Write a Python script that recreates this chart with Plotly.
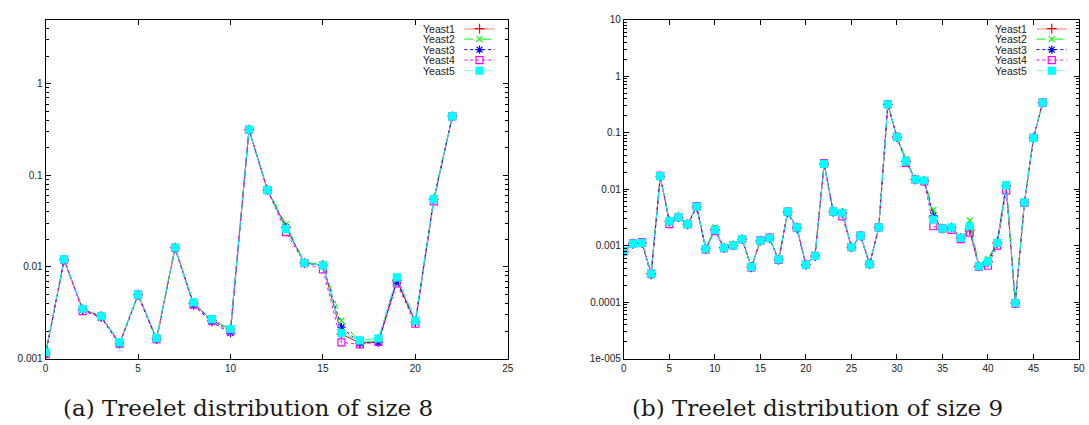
import plotly.graph_objects as go

# ---------------- data: treelet distribution of size 8 ----------------
x8 = list(range(23))
yeast1_s8 = [0.00115, 0.0120, 0.00345, 0.0029, 0.00148, 0.0050, 0.00165, 0.0162, 0.0040, 0.0026, 0.0021,
             0.315, 0.069, 0.027, 0.0111, 0.0105, 0.00185, 0.00148, 0.00152, 0.0072, 0.0025, 0.055, 0.44]
yeast2_s8 = [0.00115, 0.0121, 0.00345, 0.0029, 0.00148, 0.0050, 0.00165, 0.0163, 0.0040, 0.0026, 0.0021,
             0.316, 0.070, 0.029, 0.0112, 0.0107, 0.0026, 0.00150, 0.00155, 0.0078, 0.0026, 0.056, 0.44]
yeast3_s8 = [0.0011, 0.0119, 0.0034, 0.0028, 0.00143, 0.0049, 0.0016, 0.0160, 0.0038, 0.0025, 0.0019,
             0.312, 0.069, 0.027, 0.0110, 0.0104, 0.0022, 0.00148, 0.00150, 0.0070, 0.0025, 0.055, 0.44]
yeast4_s8 = [0.00112, 0.0120, 0.0033, 0.0029, 0.00146, 0.0050, 0.00163, 0.0162, 0.0039, 0.0026, 0.0020,
             0.314, 0.069, 0.024, 0.0110, 0.0094, 0.0015, 0.00143, 0.00152, 0.0066, 0.0024, 0.052, 0.44]
yeast5_s8 = [0.00117, 0.0121, 0.0035, 0.0029, 0.00150, 0.0050, 0.00167, 0.0163, 0.0041, 0.0027, 0.0021,
             0.316, 0.069, 0.026, 0.0111, 0.0104, 0.0019, 0.00158, 0.00166, 0.0077, 0.0026, 0.055, 0.44]

# ---------------- data: treelet distribution of size 9 ----------------
x9 = list(range(47))
yeast1_s9 = [0.00078, 0.00108, 0.00112, 0.00032, 0.0169, 0.0027, 0.0032, 0.0024, 0.0049, 0.00088,
             0.0019, 0.00092, 0.00101, 0.0013, 0.00042, 0.00123, 0.00135, 0.00057, 0.0039, 0.0021,
             0.00046, 0.00066, 0.028, 0.0040, 0.0038, 0.00094, 0.0015, 0.00047, 0.0021, 0.315,
             0.083, 0.031, 0.0148, 0.014, 0.0032, 0.0020, 0.0021, 0.00137, 0.0019, 0.00043,
             0.00052, 0.00112, 0.0115, 0.000097, 0.0058, 0.081, 0.34]
yeast2_s9 = [0.00079, 0.00109, 0.00112, 0.00032, 0.0170, 0.0027, 0.0032, 0.0024, 0.0049, 0.00089,
             0.0021, 0.00093, 0.00101, 0.0013, 0.00042, 0.00124, 0.00136, 0.00057, 0.0040, 0.0021,
             0.00047, 0.00067, 0.029, 0.0041, 0.0038, 0.00095, 0.0015, 0.00048, 0.0021, 0.318,
             0.085, 0.034, 0.0150, 0.0142, 0.0043, 0.0021, 0.0021, 0.00138, 0.0028, 0.00044,
             0.00058, 0.00115, 0.0124, 0.000098, 0.0059, 0.082, 0.34]
yeast3_s9 = [0.00077, 0.00106, 0.00110, 0.00030, 0.0167, 0.0026, 0.0031, 0.0023, 0.0048, 0.00086,
             0.0019, 0.00090, 0.00100, 0.0013, 0.00040, 0.00121, 0.00133, 0.00055, 0.0038, 0.0020,
             0.00045, 0.00064, 0.028, 0.0039, 0.0037, 0.00092, 0.0015, 0.00046, 0.0021, 0.312,
             0.082, 0.031, 0.0147, 0.0139, 0.0034, 0.0020, 0.0021, 0.00135, 0.0022, 0.00042,
             0.00051, 0.00110, 0.0113, 0.000095, 0.0057, 0.080, 0.34]
yeast4_s9 = [0.00080, 0.00110, 0.00115, 0.00032, 0.0172, 0.0024, 0.0032, 0.0024, 0.0050, 0.00086,
             0.0018, 0.00090, 0.00101, 0.0013, 0.00041, 0.00124, 0.00138, 0.00056, 0.0040, 0.0021,
             0.00046, 0.00066, 0.029, 0.0040, 0.0033, 0.00094, 0.0015, 0.00047, 0.0021, 0.320,
             0.084, 0.029, 0.0148, 0.0137, 0.0022, 0.0020, 0.0019, 0.00130, 0.0017, 0.00042,
             0.00044, 0.00100, 0.0095, 0.000094, 0.0057, 0.081, 0.34]
yeast5_s9 = [0.00079, 0.00108, 0.00112, 0.00032, 0.0170, 0.0027, 0.0032, 0.0024, 0.0049, 0.00088,
             0.0019, 0.00092, 0.00101, 0.0013, 0.00042, 0.00123, 0.00135, 0.00057, 0.0040, 0.0021,
             0.00046, 0.00066, 0.028, 0.0040, 0.0038, 0.00094, 0.0015, 0.00047, 0.0021, 0.317,
             0.083, 0.031, 0.0148, 0.0142, 0.0029, 0.0020, 0.0021, 0.00137, 0.0022, 0.00043,
             0.00052, 0.00112, 0.0117, 0.000097, 0.0058, 0.081, 0.34]

series_names = ["Yeast1", "Yeast2", "Yeast3", "Yeast4", "Yeast5"]
series_s8 = [yeast1_s8, yeast2_s8, yeast3_s8, yeast4_s8, yeast5_s8]
series_s9 = [yeast1_s9, yeast2_s9, yeast3_s9, yeast4_s9, yeast5_s9]

y_ticks_s8 = [0.001, 0.01, 0.1, 1]
y_ticklabels_s8 = ["0.001", "0.01", "0.1", "1"]
y_ticks_s9 = [1e-5, 1e-4, 0.001, 0.01, 0.1, 1, 10]
y_ticklabels_s9 = ["1e-005", "0.0001", "0.001", "0.01", "0.1", "1", "10"]

captions = ["(a) Treelet distribution of size 8", "(b) Treelet distribution of size 9"]

# ---------------- styles ----------------
colors = ["#ff0000", "#00ff00", "#0000ff", "#ff00ff", "#00ffff"]
dashes = ["solid", "dash", "dot", "dot", "dashdot"]
symbols = ["cross-thin", "x-thin", "asterisk", "square-open", "square"]
msizes = [7, 6, 7, 7, 7]
sans = "Liberation Sans, Arial, sans-serif"

fig = go.Figure()

# data traces
for xs, series, xa, ya in [(x8, series_s8, "x", "y"), (x9, series_s9, "x2", "y2")]:
    for name, ys, c, d, s, ms in zip(series_names, series, colors, dashes, symbols, msizes):
        fig.add_trace(go.Scatter(
            x=xs, y=ys, name=name, mode="lines+markers",
            xaxis=xa, yaxis=ya, showlegend=False,
            line=dict(color=c, width=1, dash=d),
            marker=dict(symbol=s, size=ms, color=c, line=dict(color=c, width=1.2)),
        ))

# gnuplot-style key (text left of the sample), drawn on small helper axes
for xa, ya in [("x3", "y3"), ("x4", "y4")]:
    for i, (name, c, d, s, ms) in enumerate(zip(series_names, colors, dashes, symbols, msizes)):
        fig.add_trace(go.Scatter(
            x=[0, 1], y=[i, i], mode="lines", xaxis=xa, yaxis=ya, showlegend=False,
            hoverinfo="skip", line=dict(color=c, width=1.4 if i == 0 else 1, dash=d),
        ))
        fig.add_trace(go.Scatter(
            x=[0.5], y=[i], mode="markers", xaxis=xa, yaxis=ya, showlegend=False,
            hoverinfo="skip", cliponaxis=False,
            marker=dict(symbol=s, size=ms, color=c, line=dict(color=c, width=1.2)),
        ))
        fig.add_annotation(text=name, xref=xa, yref=ya, x=0, y=i, xanchor="right",
                           yanchor="middle", xshift=-7, showarrow=False,
                           font=dict(family=sans, size=10.5, color="#222222"))

axis_common = dict(
    showline=True, linecolor="black", linewidth=1, mirror="ticks",
    ticks="inside", ticklen=5, tickcolor="black",
    showgrid=False, zeroline=False,
    tickfont=dict(family=sans, size=10, color="#222222"),
)
minor_ticks = dict(ticks="inside", ticklen=3, tickcolor="black", dtick="D1", showgrid=False)
hidden = dict(visible=False, showgrid=False, zeroline=False, fixedrange=True)

ydom = [1 - 363 / 425, 1 - 15 / 425]
key_ydom = [1 - 67.3 / 425, 1 - 24.3 / 425]

fig.update_layout(
    width=1089, height=425,
    margin=dict(l=0, r=0, t=0, b=0),
    paper_bgcolor="white", plot_bgcolor="rgba(0,0,0,0)",
    showlegend=False,
    xaxis=dict(domain=[43 / 1089, 509 / 1089], range=[0, 25], dtick=5, anchor="y", **axis_common),
    yaxis=dict(domain=ydom, type="log", range=[-3, 0.699], anchor="x",
               tickvals=y_ticks_s8, ticktext=y_ticklabels_s8, minor=minor_ticks, **axis_common),
    xaxis2=dict(domain=[626 / 1089, 1085 / 1089], range=[0, 50], dtick=5, anchor="y2", **axis_common),
    yaxis2=dict(domain=ydom, type="log", range=[-5, 1], anchor="x2",
                tickvals=y_ticks_s9, ticktext=y_ticklabels_s9, minor=minor_ticks, **axis_common),
    xaxis3=dict(domain=[465 / 1089, 496 / 1089], range=[0, 1], anchor="y3", **hidden),
    yaxis3=dict(domain=key_ydom, range=[4, 0], anchor="x3", **hidden),
    xaxis4=dict(domain=[1042 / 1089, 1073 / 1089], range=[0, 1], anchor="y4", **hidden),
    yaxis4=dict(domain=key_ydom, range=[4, 0], anchor="x4", **hidden),
)

for cap, cx in zip(captions, [247 / 1089, 821 / 1089]):
    fig.add_annotation(text=cap, xref="paper", yref="paper", x=cx, y=1 - 414 / 425,
                       xanchor="center", yanchor="middle", showarrow=False,
                       font=dict(family="DejaVu Serif, Liberation Serif, serif", size=23, color="#1a1a1a"))

fig.write_html("out.html")
